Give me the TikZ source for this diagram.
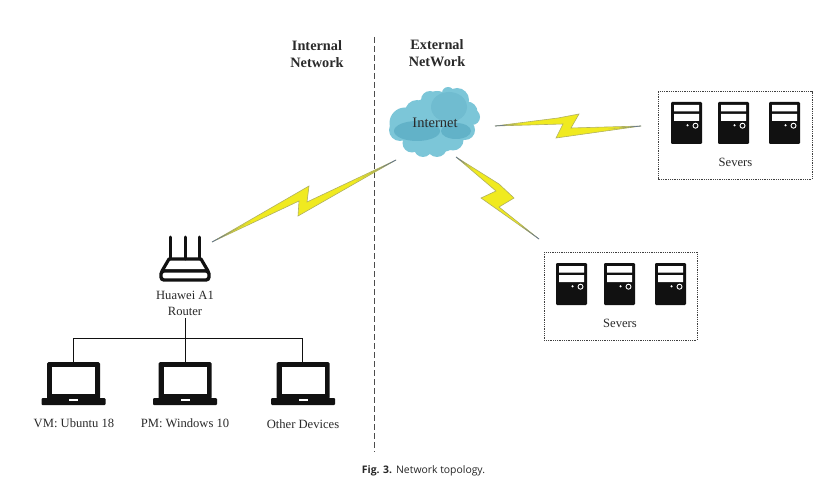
\documentclass[tikz,border=0pt]{standalone}
\usepackage{fontspec}
\setmainfont{Liberation Serif}
\newfontfamily\capfont{Open Sans}
\usetikzlibrary{calc}
\definecolor{boltyel}{HTML}{F0EA20}
\definecolor{boltedge}{HTML}{B0B060}
\definecolor{tipblue}{HTML}{5A6E9A}
\definecolor{cloudbase}{HTML}{7CC6D8}
\definecolor{clouddark}{HTML}{62B2C8}
\definecolor{cloudmid}{HTML}{70BCD0}
\definecolor{inkc}{HTML}{111111}
\definecolor{txtc}{HTML}{2A2A2A}
\tikzset{
  lab/.style={font=\fontsize{12.6}{12.6}\selectfont,text=txtc,inner sep=0pt},
  head/.style={font=\fontsize{14.3}{14.3}\selectfont\bfseries,text=txtc,inner sep=0pt},
  wire/.style={draw=inkc,line width=1pt},
  bolt/.style={fill=boltyel,draw=boltedge,line width=.6pt,line join=miter},
  dotbox/.style={draw=black!75,line width=1pt,dash pattern=on 1pt off .8pt},
}
% fading tip: from tip #1 toward #2
\newcommand{\tipfade}[2]{%
  \foreach \t/\o in {0/.9,.07/.75,.14/.6,.21/.45,.28/.3,.35/.15}{%
    \draw[tipblue,opacity=\o,line width=.8pt] ($(#1)!\t!(#2)$) -- ($(#1)!\t+.07!(#2)$);}%
}
\newcommand{\tower}[2]{%
  \begin{scope}[shift={(#1,#2)}]
    \fill[inkc,rounded corners=1.2pt] (0,0) rectangle (31,42);
    \fill[white] (3,3) rectangle (28,9.5) (3,12) rectangle (28,19);
    \fill[white] (16.5,23.3) circle (1.2);
    \draw[white,line width=.9pt] (24.5,23.7) circle (2.5);
  \end{scope}}
\newcommand{\laptop}[1]{%
  \begin{scope}[shift={(#1,0)}]
    \fill[inkc,rounded corners=1.5pt] (-26.5,362) rectangle (26.5,399);
    \fill[white] (-21.5,367) rectangle (21.5,394);
    \fill[inkc,rounded corners=1pt] (-32,398) rectangle (32,405);
    \fill[white] (-4.5,398.5) rectangle (4.5,400.5);
  \end{scope}}
\begin{document}
\begin{tikzpicture}[x=1pt,y=-1pt]
\useasboundingbox (0,0) rectangle (834,489);
\fill[white] (0,0) rectangle (834,489);
% divider
\coordinate (divtop) at (374.5,37);
\coordinate (divbot) at (374.5,452);
\draw[black!70,line width=1pt,dash pattern=on 6pt off 3pt] (divtop) -- (divbot);
% headings
\node[head,align=center,text width=70pt] (internal) at (317,54) {Internal\\[2pt]Network};
\node[head,align=center,text width=70pt] (external) at (437,53) {External\\[2pt]NetWork};
% cloud
\fill[cloudbase] (405,123) circle (15.5) (400,130) circle (11) (417,112) circle (12)
  (437,105) circle (14) (457,100) circle (12) (467,112) circle (10.5) (472,117) circle (8)
  (465,130) circle (10) (453,140) circle (10.5) (437,147) circle (10) (423,148) circle (9)
  (412,143) circle (9.5) (435,125) ellipse (34 and 28) (448,93) circle (6) (430,100) circle (9);
\fill[cloudmid] (449,107) ellipse (18 and 15);
\fill[clouddark] (417,131) ellipse (23 and 10);
\fill[clouddark] (456,131) ellipse (15 and 8);
\node[lab,font=\fontsize{14.5}{14.5}\selectfont] (internet) at (435,122.7) {Internet};
% bolts
\coordinate (b1a) at (495,126); \coordinate (b1b) at (641,126);
\fill[bolt] (b1a) -- (558,118) -- (579,114) -- (571,128) -- (b1b) -- (556,138) -- (563,124) -- cycle;
\tipfade{b1a}{560,121}\tipfade{b1b}{563,133}
\coordinate (b2a) at (212,242); \coordinate (b2b) at (396,160);
\fill[bolt] (b2a) -- (309,186) -- (307,202) -- (b2b) -- (298,216) -- (299,201) -- cycle;
\tipfade{b2a}{304,193}\tipfade{b2b}{302,209}
\coordinate (b3a) at (456,157); \coordinate (b3b) at (539,239);
\fill[bolt] (b3a) -- (499,184) -- (514,198) -- (499,207) -- (b3b) -- (481,198) -- (496,191) -- cycle;
\tipfade{b3a}{497,187}\tipfade{b3b}{490,203}
% router
\draw[inkc,line width=3pt,line cap=round] (170.7,237) -- (170.7,259) (185,237) -- (185,259) (199,237) -- (199,259);
\draw[inkc,line width=3.2pt,line join=round] (169,259) -- (201,259) -- (208,271) -- (162,271) -- cycle;
\draw[inkc,line width=3.4pt,rounded corners=3pt,fill=white] (161,271) rectangle (209,280);
\node[lab] (rlab1) at (185,295) {Huawei A1};
\node[lab] (rlab2) at (185,311) {Router};
% wiring
\coordinate (rt) at (185,318);
\coordinate (j) at (185,338.5);
\coordinate (l1t) at (73.5,362); \coordinate (l2t) at (185,362); \coordinate (l3t) at (302.7,362);
\draw[wire] (rt) -- (l2t);
\draw[wire] (l1t) |- (j) -| (l3t);
% laptops
\laptop{73.5}\laptop{185}\laptop{303}
\node[lab] (l1) at (74,423) {VM: Ubuntu 18};
\node[lab] (l2) at (185,423) {PM: Windows 10};
\node[lab] (l3) at (303,424) {Other Devices};
% servers
\draw[dotbox] (658,92) rectangle (812,179);
\tower{671}{102}\tower{718}{102}\tower{769}{102}
\node[lab] (s1) at (735.5,162) {Severs};
\draw[dotbox] (544,252) rectangle (697,340);
\tower{556}{263}\tower{604}{263}\tower{655}{263}
\node[lab] (s2) at (620,323.5) {Severs};
% caption
\node[inner sep=0pt,text=black!85,font=\fontsize{10.4}{10.4}\selectfont\capfont] (cap) at (423.5,471) {\textbf{Fig. 3.}\hspace{4pt}Network topology.};
\end{tikzpicture}
\end{document}
